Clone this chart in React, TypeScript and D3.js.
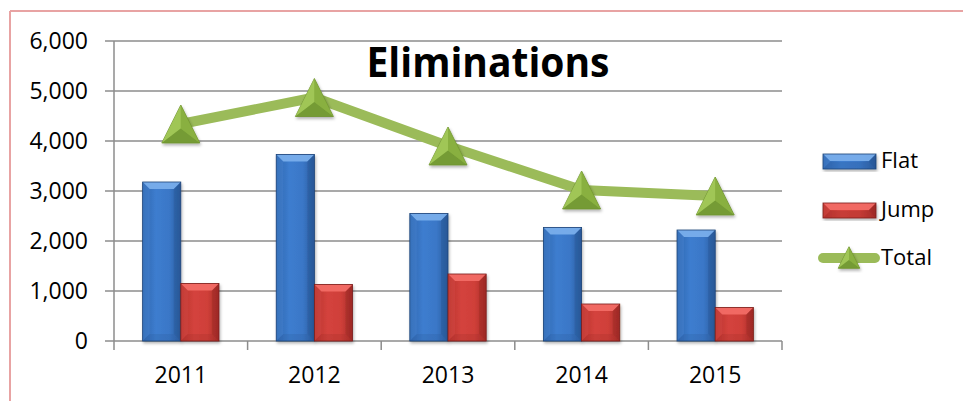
import React from "react";
import * as d3 from "d3";

const years = ["2011", "2012", "2013", "2014", "2015"];
const flat = [3180, 3730, 2550, 2270, 2220];
const jump = [1150, 1130, 1340, 740, 670];
const total = [4340, 4870, 3900, 3020, 2900];
const yTicks = [0, 1000, 2000, 3000, 4000, 5000, 6000];
const legendItems = ["Flat", "Jump", "Total"];

const W = 963;
const H = 401;
const FONT = "'Open Sans', sans-serif";

function Bar({ x, y, w, h, kind }: { x: number; y: number; w: number; h: number; kind: "flat" | "jump" }) {
  const b = Math.min(7, h / 2, w / 2);
  const topC = kind === "flat" ? "#79AEEB" : "#F26C66";
  const sideL = kind === "flat" ? "#4A86D4" : "#D8514B";
  const sideR = kind === "flat" ? "#24548F" : "#8E2522";
  const botC = kind === "flat" ? "#2A5C9C" : "#9F2B27";
  const stroke = kind === "flat" ? "#1E4478" : "#7A1E1B";
  return (
    <g filter="url(#shadow)">
      <rect x={x} y={y} width={w} height={h} fill={`url(#grad-${kind})`} />
      <polygon points={`${x},${y} ${x + w},${y} ${x + w - b},${y + b} ${x + b},${y + b}`} fill={topC} opacity={0.95} />
      <polygon points={`${x},${y} ${x + b},${y + b} ${x + b},${y + h - b} ${x},${y + h}`} fill={sideL} opacity={0.35} />
      <polygon points={`${x + w},${y} ${x + w - b},${y + b} ${x + w - b},${y + h - b} ${x + w},${y + h}`} fill={sideR} opacity={0.35} />
      <polygon points={`${x},${y + h} ${x + b},${y + h - b} ${x + w - b},${y + h - b} ${x + w},${y + h}`} fill={botC} opacity={0.25} />
      <rect x={x} y={y} width={w} height={h} fill="none" stroke={stroke} strokeWidth={0.8} />
    </g>
  );
}

function Marker({ cx, cy, s }: { cx: number; cy: number; s: number }) {
  const half = s / 2;
  const top = cy - half;
  const bot = cy + half;
  const gx = cx;
  const gy = cy + s * 0.12;
  return (
    <g filter="url(#shadow)">
      <polygon points={`${cx},${top} ${cx + half},${bot} ${cx - half},${bot}`} fill="#8DB543" stroke="#6C8F2E" strokeWidth={0.8} />
      <polygon points={`${cx},${top} ${gx},${gy} ${cx - half},${bot}`} fill="#A5CB5C" opacity={0.8} />
      <polygon points={`${cx - half},${bot} ${gx},${gy} ${cx + half},${bot}`} fill="#6E9531" opacity={0.8} />
      <polygon points={`${cx},${top} ${cx + half},${bot} ${gx},${gy}`} fill="#87AE3E" opacity={0.6} />
    </g>
  );
}

export default function App() {
  const left = 114;
  const right = 782;
  const top = 41;
  const bottom = 341;

  const x = d3.scaleBand<string>().domain(years).range([left, right]).padding(0);
  const y = d3.scaleLinear().domain([0, 6000]).range([bottom, top]);
  const bw = x.bandwidth() / 3.5;

  const line = d3
    .line<number>()
    .x((_, i) => (x(years[i]) as number) + x.bandwidth() / 2)
    .y((d) => y(d));

  return (
    <div style={{ position: "fixed", left: 0, top: 0 }}>
      <svg width={W} height={H} style={{ display: "block", background: "#fff" }}>
        <defs>
          <linearGradient id="grad-flat" x1="0" x2="1" y1="0" y2="0">
            <stop offset="0" stopColor="#2F66AE" />
            <stop offset="0.35" stopColor="#3D7DCF" />
            <stop offset="0.7" stopColor="#3A77C7" />
            <stop offset="1" stopColor="#2A5A9B" />
          </linearGradient>
          <linearGradient id="grad-jump" x1="0" x2="1" y1="0" y2="0">
            <stop offset="0" stopColor="#B8322D" />
            <stop offset="0.35" stopColor="#D4433D" />
            <stop offset="0.7" stopColor="#CF3F39" />
            <stop offset="1" stopColor="#A52C28" />
          </linearGradient>
          <filter id="shadow" x="-20%" y="-20%" width="140%" height="140%">
            <feDropShadow dx="1" dy="2" stdDeviation="1.5" floodColor="#000" floodOpacity="0.3" />
          </filter>
        </defs>

        {/* outer border (top and left visible) */}
        <line x1={10} x2={W} y1={11} y2={11} stroke="#E8A3A3" strokeWidth={2} />
        <line x1={10} x2={10} y1={11} y2={H} stroke="#E8A3A3" strokeWidth={2} />

        {/* gridlines + y ticks */}
        {yTicks.map((t) => (
          <g key={t}>
            <line x1={left - 9} x2={right} y1={y(t)} y2={y(t)} stroke="#8C8C8C" strokeWidth={1.5} />
            <text
              x={88}
              y={y(t)}
              dy="0.36em"
              textAnchor="end"
              fontFamily={FONT}
              fontSize={23}
              fill="#000"
            >
              {d3.format(",")(t)}
            </text>
          </g>
        ))}
        {/* y axis line */}
        <line x1={left} x2={left} y1={top} y2={bottom} stroke="#8C8C8C" strokeWidth={1.5} />
        {/* x ticks */}
        {[...years.map((yy) => x(yy) as number), right].map((px, i) => (
          <line key={i} x1={px} x2={px} y1={bottom} y2={bottom + 9} stroke="#8C8C8C" strokeWidth={1.5} />
        ))}
        {years.map((yy) => (
          <text
            key={yy}
            x={(x(yy) as number) + x.bandwidth() / 2}
            y={383}
            textAnchor="middle"
            fontFamily={FONT}
            fontSize={23}
            fill="#000"
          >
            {yy}
          </text>
        ))}

        {/* bars */}
        {years.map((yy, i) => {
          const x0 = (x(yy) as number) + bw * 0.75;
          return (
            <g key={yy}>
              <Bar x={x0} y={y(flat[i])} w={bw} h={bottom - y(flat[i])} kind="flat" />
              <Bar x={x0 + bw} y={y(jump[i])} w={bw} h={bottom - y(jump[i])} kind="jump" />
            </g>
          );
        })}

        {/* total line */}
        <path d={line(total) || ""} fill="none" stroke="#9BBB59" strokeWidth={10} strokeLinejoin="round" />
        {total.map((t, i) => (
          <Marker key={i} cx={(x(years[i]) as number) + x.bandwidth() / 2} cy={y(t)} s={38} />
        ))}

        {/* title */}
        <text
          x={488}
          y={77}
          textAnchor="middle"
          fontFamily={FONT}
          fontWeight={700}
          fontSize={41}
          textLength={243}
          lengthAdjust="spacingAndGlyphs"
          fill="#000"
        >
          Eliminations
        </text>

        {/* legend */}
        <Bar x={823} y={154} w={53} h={15} kind="flat" />
        <Bar x={823} y={203} w={53} h={15} kind="jump" />
        <line x1={823} x2={875} y1={258} y2={258} stroke="#9BBB59" strokeWidth={10} strokeLinecap="round" />
        <Marker cx={849} cy={257.5} s={21.5} />
        {legendItems.map((l, i) => (
          <text key={l} x={881} y={168 + i * 48.5} dy="0.0em" fontFamily={FONT} fontSize={22} fill="#000">
            {l}
          </text>
        ))}
      </svg>
    </div>
  );
}
